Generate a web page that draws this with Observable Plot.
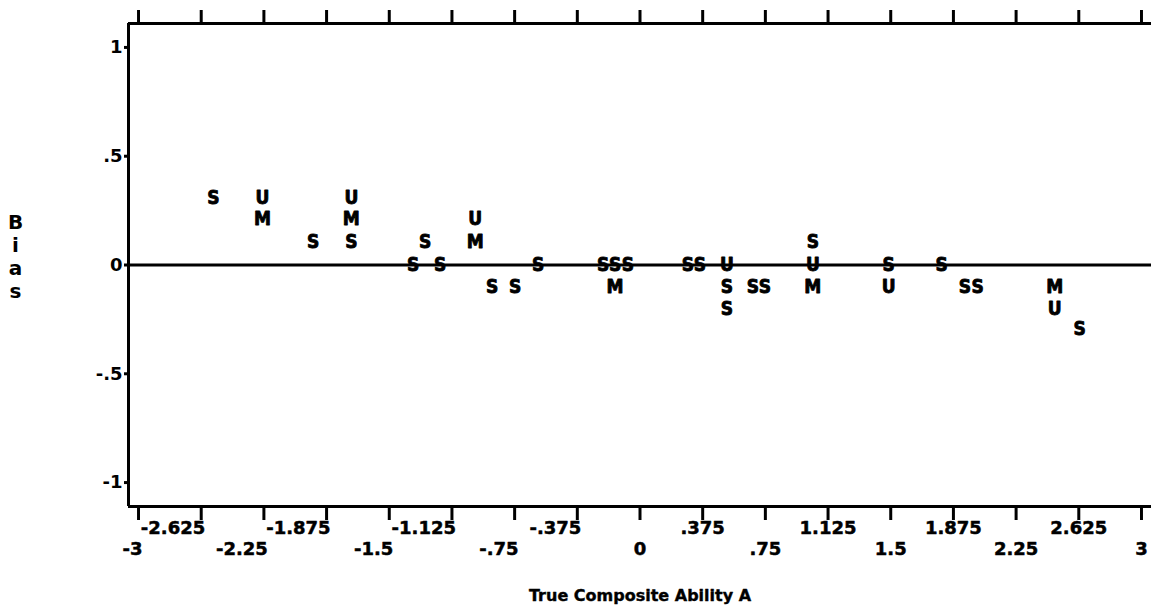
<!DOCTYPE html>
<html>
<head>
<meta charset="utf-8">
<script src="https://cdn.jsdelivr.net/npm/d3@7"></script>
<script src="https://cdn.jsdelivr.net/npm/@observablehq/plot@0.6"></script>
<style>
  html, body { margin: 0; padding: 0; background: #fff; }
  #chart svg { display: block; }
</style>
</head>
<body>
<div id="chart"></div>
<script>
// ---- data ----
const xTitle = "True Composite Ability A";
const yTitle = "Bias";

const xTicks = [-3, -2.625, -2.25, -1.875, -1.5, -1.125, -0.75, -0.375, 0, 0.375, 0.75, 1.125, 1.5, 1.875, 2.25, 2.625, 3];
const xTickLabels = ["-3", "-2.625", "-2.25", "-1.875", "-1.5", "-1.125", "-.75", "-.375", "0", ".375", ".75", "1.125", "1.5", "1.875", "2.25", "2.625", "3"];
const yTicks = [-1, -0.5, 0, 0.5, 1];
const yTickLabels = ["-1", "-.5", "0", ".5", "1"];

// series "S"
const sX = [-2.552, -1.955, -1.727, -1.285, -1.357, -1.195, -0.885, -0.747, -0.610, -0.221, -0.149, -0.072, 0.287, 0.359, 0.520, 0.520, 0.675, 0.747, 1.034, 1.488, 1.805, 1.943, 2.020, 2.630];
const sY = [0.31, 0.105, 0.105, 0.105, 0, 0, -0.10, -0.10, 0, 0, 0, 0, 0, 0, -0.10, -0.20, -0.10, -0.10, 0.105, 0, 0, -0.10, -0.10, -0.295];
// series "U"
const uX = [-2.259, -1.727, -0.986, 0.520, 1.034, 1.488, 2.481];
const uY = [0.31, 0.31, 0.21, 0, 0, -0.10, -0.20];
// series "M"
const mX = [-2.259, -1.727, -0.986, -0.149, 1.034, 2.481];
const mY = [0.21, 0.21, 0.105, -0.10, -0.10, -0.10];

// ---- tables built from the arrays ----
const series = [
  {letter: "S", xs: sX, ys: sY},
  {letter: "U", xs: uX, ys: uY},
  {letter: "M", xs: mX, ys: mY}
];
const points = series.flatMap(s => s.xs.map((x, i) => ({letter: s.letter, x, y: s.ys[i]})));
const xLabels = xTicks.map((v, i) => ({v, label: xTickLabels[i], upper: i % 2 === 1}));

const xDomain = [-3.06, 3.06];
const yDomain = [-1.11, 1.11];

const tickFont = "'DejaVu Sans', sans-serif";
const letterFont = "'DejaVu Sans Condensed', 'DejaVu Sans', sans-serif";

const labelMark = (rows, anchor, dy, dx) =>
  Plot.text(rows, {x: "v", frameAnchor: "bottom", text: "label", textAnchor: anchor, dx, dy,
    lineAnchor: "middle", fontSize: 18, fontWeight: "bold", fontFamily: tickFont,
    fill: "black", stroke: "black", strokeWidth: 0.5});

const chart = Plot.plot({
  width: 1151,
  height: 615,
  marginLeft: 128,
  marginRight: 0,
  marginTop: 23,
  marginBottom: 109,
  style: {background: "white", color: "black", fontFamily: tickFont},
  x: {domain: xDomain},
  y: {domain: yDomain},
  marks: [
    // frame (top, bottom, left)
    Plot.ruleY([yDomain[1]], {stroke: "black", strokeWidth: 3}),
    Plot.ruleY([yDomain[0]], {stroke: "black", strokeWidth: 3}),
    Plot.ruleX([xDomain[0]], {stroke: "black", strokeWidth: 3}),
    // tick marks
    Plot.axisX({anchor: "top", ticks: xTicks, tickSize: 14, strokeWidth: 3, fill: "none", label: null}),
    Plot.axisX({anchor: "bottom", ticks: xTicks, tickSize: 14, strokeWidth: 3, fill: "none", label: null}),
    Plot.axisY({anchor: "left", ticks: yTicks, tickSize: 4, tickPadding: 2, strokeWidth: 3,
      tickFormat: d => yTickLabels[yTicks.indexOf(d)], label: null,
      fontSize: 18, fontWeight: "bold", fontFamily: tickFont}),
    // x tick labels, two staggered rows
    labelMark(xLabels.filter(d => d.upper && d.v < 0), "end", 21.5, 4),
    labelMark(xLabels.filter(d => d.upper && d.v >= 0), "middle", 21.5, 0),
    labelMark(xLabels.filter(d => !d.upper && d.v < 0), "end", 42.5, 4),
    labelMark(xLabels.filter(d => !d.upper && d.v >= 0), "middle", 42.5, 0),
    // zero line
    Plot.ruleY([0], {stroke: "black", strokeWidth: 3}),
    // points as letters
    Plot.text(points, {x: "x", y: "y", text: "letter", fontSize: 19, fontWeight: "bold",
      fontFamily: letterFont, fill: "black", stroke: "black", strokeWidth: 0.8}),
    // axis titles
    Plot.text([xTitle], {frameAnchor: "bottom", text: d => d, dy: 89, lineAnchor: "middle",
      fontSize: 16, fontWeight: "bold", fontFamily: tickFont, fill: "black", stroke: "black", strokeWidth: 0.4}),
    Plot.text([yTitle], {frameAnchor: "left", text: d => d.split("").join("\n"), dx: -113, dy: -52.5,
      lineAnchor: "top", lineHeight: 1.15, textAnchor: "middle",
      fontSize: 20, fontWeight: "bold", fontFamily: tickFont, fill: "black"})
  ]
});

document.getElementById("chart").appendChild(chart);
</script>
</body>
</html>
